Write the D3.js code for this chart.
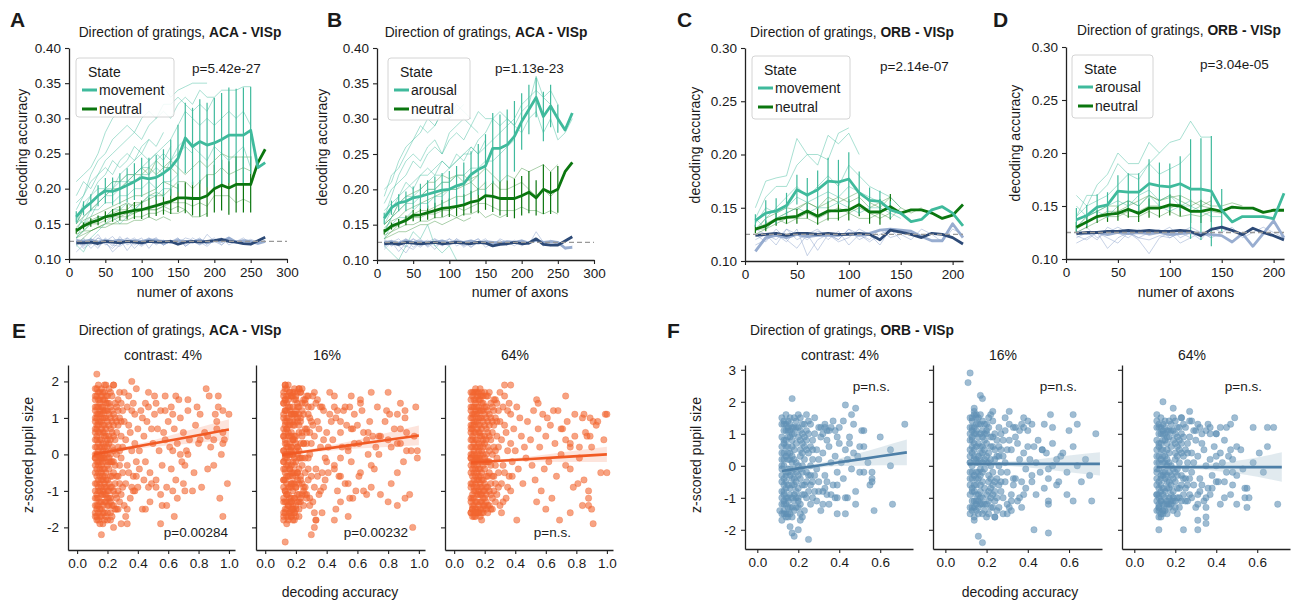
<!DOCTYPE html>
<html>
<head>
<meta charset="utf-8">
<script src="https://cdn.jsdelivr.net/npm/d3@7"></script>
<style>
  body { margin: 0; background: #fff; }
  svg text { font-family: "Liberation Sans", Arial, Helvetica, sans-serif; fill: #1a1a1a; }
</style>
</head>
<body>
<svg id="fig" width="1293" height="603"></svg>
<script>
'use strict';

// ---- Data: top row, decoding accuracy vs number of axons --------------------

const axonsAB = [10,20,30,40,50,60,70,80,90,100,110,120,130,140,150,160,170,180,190,200,210,220,230,240,250,260,270];
const axonsCD = [10,20,30,40,50,60,70,80,90,100,110,120,130,140,150,160,170,180,190,200,210];
const ticksAxonsAB = [0,50,100,150,200,250,300];
const ticksAxonsCD = [0,50,100,150,200];
const ticksAccAB = [0.10,0.15,0.20,0.25,0.30,0.35,0.40];
const ticksAccCD = [0.10,0.15,0.20,0.25,0.30];
const chanceLevel = 0.125;

// A: ACA - VISp, movement
const aMove     = [0.160,0.172,0.180,0.190,0.197,0.196,0.200,0.205,0.210,0.216,0.214,0.216,0.222,0.230,0.243,0.272,0.260,0.267,0.262,0.265,0.270,0.276,0.276,0.276,0.283,0.230,0.237];
const aMoveErr  = [0.008,0.010,0.012,0.015,0.018,0.020,0.022,0.024,0.026,0.028,0.030,0.032,0.034,0.040,0.048,0.050,0.055,0.060,0.060,0.064,0.066,0.068,0.066,0.068,0.062,0,0];
const aNeut     = [0.140,0.147,0.152,0.155,0.160,0.162,0.165,0.167,0.169,0.170,0.173,0.176,0.179,0.182,0.187,0.187,0.186,0.186,0.190,0.200,0.205,0.201,0.206,0.206,0.206,0.237,0.256];
const aNeutErr  = [0.004,0.005,0.006,0.007,0.008,0.009,0.010,0.011,0.012,0.013,0.014,0.015,0.016,0.018,0.020,0.022,0.024,0.026,0.030,0.034,0.036,0.038,0.040,0.040,0.040,0,0];
const aShufDark = [0.123,0.123,0.124,0.122,0.125,0.124,0.123,0.125,0.124,0.123,0.125,0.124,0.124,0.125,0.121,0.124,0.125,0.124,0.125,0.126,0.128,0.125,0.124,0.122,0.121,0.126,0.131];
const aShufLight= [0.126,0.125,0.127,0.124,0.126,0.125,0.127,0.124,0.126,0.125,0.127,0.126,0.125,0.124,0.126,0.125,0.124,0.127,0.123,0.126,0.125,0.130,0.124,0.126,0.125,0.122,0.125];
const aThinMove = [
  [0.21,0.22,0.23,0.25,0.28,0.30,0.31,0.32,0.31,0.33,0.34,0.33,0.345,0.33,0.34,0.345,0.35,0.35,0.35],
  [0.17,0.19,0.22,0.24,0.25,0.27,0.28,0.29,0.28,0.30,0.31,0.30,0.32,0.32,0.33,0.32,0.31,0.32,0.31,0.33,0.34,0.34,0.34,0.345,0.345],
  [0.15,0.17,0.18,0.19,0.20,0.20,0.22,0.23,0.24,0.25,0.24,0.25,0.26,0.27,0.29,0.31,0.30,0.29,0.30,0.29,0.30,0.31,0.30,0.31,0.29],
  [0.14,0.16,0.17,0.18,0.19,0.19,0.20,0.21,0.21,0.22,0.22,0.23,0.22,0.24,0.26,0.27,0.26,0.25,0.24,0.26,0.25,0.24,0.25,0.26,0.23],
  [0.16,0.15,0.17,0.17,0.18,0.18,0.19,0.19,0.20,0.20,0.21,0.20,0.21,0.21,0.22],
  [0.13,0.14,0.15,0.16,0.16,0.17,0.17,0.18,0.17,0.18,0.19,0.19,0.20,0.20],
  [0.12,0.11,0.13,0.14,0.15,0.16,0.15,0.16,0.17,0.18],
  [0.19,0.21,0.20,0.22,0.23,0.22,0.24,0.25,0.24,0.26,0.27,0.26,0.28],
  [0.15,0.18,0.19,0.21,0.22,0.24,0.23,0.24,0.26,0.25,0.27],
  [0.18,0.19,0.21,0.22,0.24,0.25,0.26,0.27,0.28,0.27,0.29,0.30,0.31,0.30,0.32,0.33,0.32,0.34,0.33,0.33],
  [0.13,0.15,0.16,0.18,0.19,0.20,0.21,0.21,0.22,0.23,0.23,0.24,0.25,0.24,0.25,0.26,0.25],
  [0.16,0.17,0.19,0.20,0.20,0.21,0.21,0.22,0.22,0.23,0.24,0.25,0.24,0.26]
];
const aThinNeut = [
  [0.15,0.16,0.17,0.18,0.19,0.20,0.20,0.21,0.22,0.22,0.23,0.22,0.23,0.24,0.23,0.22,0.23,0.24,0.23,0.24,0.25,0.245,0.245,0.245,0.245],
  [0.13,0.14,0.15,0.155,0.16,0.165,0.17,0.17,0.18,0.18,0.185,0.19,0.19,0.20,0.21,0.21,0.20,0.21,0.22,0.22,0.23,0.22,0.225,0.23,0.225],
  [0.14,0.145,0.15,0.15,0.155,0.16,0.16,0.165,0.165,0.17,0.17,0.17,0.175,0.18,0.18,0.18,0.175,0.18,0.175,0.19,0.19,0.19,0.18,0.185,0.18],
  [0.13,0.135,0.14,0.145,0.15,0.15,0.155,0.155,0.16,0.16,0.165,0.165,0.17,0.165,0.165,0.17,0.16,0.16,0.165],
  [0.145,0.155,0.16,0.165,0.17,0.175,0.18,0.185,0.19,0.19,0.195,0.20,0.21,0.205,0.20],
  [0.135,0.14,0.14,0.145,0.145,0.15,0.15,0.15,0.155,0.155,0.16,0.155,0.16,0.155],
  [0.14,0.15,0.155,0.16,0.16,0.17,0.175,0.18,0.175,0.18,0.19,0.195,0.19],
  [0.15,0.17,0.18,0.19,0.20,0.21,0.21,0.22,0.22,0.23,0.22,0.24,0.23,0.23,0.22],
  [0.12,0.13,0.14,0.145,0.15,0.155,0.16,0.16,0.165,0.17,0.17,0.17,0.175,0.17,0.175,0.17,0.16]
];
const aThinShuf = [
  [0.125,0.12,0.13,0.118,0.125,0.132,0.12,0.128,0.115,0.125,0.13,0.12,0.127,0.122,0.13,0.118,0.125,0.13,0.12],
  [0.12,0.13,0.115,0.125,0.128,0.118,0.132,0.12,0.125,0.13,0.115,0.128,0.12,0.125,0.122,0.13,0.127,0.12,0.125,0.13,0.12,0.128,0.125,0.13,0.122],
  [0.13,0.118,0.125,0.135,0.12,0.125,0.128,0.112,0.125,0.12,0.13,0.125,0.12,0.128],
  [0.11,0.12,0.125,0.115,0.13,0.12,0.118,0.125,0.13,0.12,0.125,0.13,0.12,0.125,0.128,0.12,0.13,0.124,0.118,0.127,0.13,0.12,0.125,0.122,0.128,0.124,0.125],
  [0.118,0.128,0.12,0.13,0.122,0.115,0.125,0.13,0.12,0.125],
  [0.128,0.115,0.122,0.13,0.125,0.11,0.12,0.13,0.124,0.118,0.126,0.13,0.12,0.125,0.13,0.118,0.125,0.12,0.135,0.125,0.12,0.13]
];

// B: ACA - VISp, arousal
const bArou     = [0.159,0.174,0.181,0.183,0.188,0.190,0.193,0.196,0.199,0.200,0.205,0.208,0.221,0.228,0.233,0.258,0.258,0.263,0.275,0.296,0.313,0.330,0.303,0.318,0.300,0.284,0.308];
const bArouErr  = [0.008,0.010,0.012,0.014,0.016,0.018,0.020,0.022,0.024,0.026,0.028,0.030,0.033,0.036,0.045,0.050,0.048,0.050,0.050,0.040,0.035,0.028,0.035,0.030,0.020,0,0];
const bNeut     = [0.140,0.148,0.152,0.156,0.163,0.164,0.167,0.170,0.173,0.174,0.176,0.178,0.182,0.184,0.191,0.190,0.187,0.187,0.187,0.191,0.196,0.188,0.200,0.195,0.200,0.225,0.238];
const bNeutErr  = [0.004,0.005,0.006,0.007,0.008,0.009,0.010,0.011,0.012,0.013,0.014,0.015,0.016,0.018,0.020,0.022,0.024,0.026,0.028,0.028,0.030,0.025,0.035,0.030,0.033,0,0];
const bShufDark = [0.123,0.124,0.122,0.125,0.124,0.123,0.124,0.125,0.123,0.124,0.125,0.124,0.123,0.125,0.124,0.120,0.122,0.123,0.125,0.123,0.124,0.130,0.122,0.121,0.121,0.127,0.133];
const bShufLight= [0.125,0.126,0.124,0.127,0.125,0.126,0.124,0.125,0.127,0.124,0.126,0.125,0.127,0.124,0.126,0.125,0.124,0.126,0.125,0.127,0.124,0.128,0.125,0.126,0.125,0.117,0.118];
const bThinArou = [
  [0.20,0.21,0.24,0.26,0.27,0.29,0.28,0.29,0.31,0.30,0.31,0.32],
  [0.16,0.19,0.22,0.24,0.25,0.24,0.26,0.27,0.25,0.28,0.29,0.30,0.29,0.31,0.30,0.30,0.31,0.30,0.29,0.31,0.32,0.36,0.33,0.34,0.32],
  [0.15,0.17,0.19,0.20,0.21,0.22,0.22,0.23,0.24,0.23,0.24,0.25,0.25,0.27,0.28,0.30,0.29,0.30,0.29,0.28,0.30,0.31,0.28,0.30,0.27,0.28,0.30],
  [0.14,0.16,0.17,0.18,0.18,0.19,0.20,0.20,0.21,0.21,0.22,0.22,0.23,0.23,0.24,0.24,0.25,0.26,0.27],
  [0.17,0.18,0.19,0.21,0.20,0.22,0.23,0.22,0.24,0.23,0.25,0.24,0.26,0.25,0.27],
  [0.13,0.15,0.16,0.16,0.17,0.18,0.18,0.19,0.19,0.20,0.20,0.21],
  [0.12,0.11,0.10,0.12,0.14,0.13,0.15,0.12,0.11,0.12,0.10],
  [0.18,0.20,0.21,0.22,0.24,0.23,0.25,0.26,0.25,0.27,0.28,0.27,0.29,0.28],
  [0.19,0.22,0.23,0.25,0.27,0.28,0.30,0.29,0.31,0.30,0.32,0.31,0.30],
  [0.14,0.16,0.18,0.19,0.19,0.20,0.21,0.22,0.22,0.23,0.24,0.25,0.26,0.25,0.26,0.27,0.28,0.29,0.30,0.32,0.33,0.34,0.33,0.32,0.30]
];
const bThinNeut = [
  [0.15,0.16,0.17,0.18,0.19,0.19,0.20,0.20,0.21,0.21,0.22,0.22,0.21,0.22,0.23,0.22,0.21,0.22,0.215,0.23,0.225,0.23,0.235,0.225,0.235],
  [0.13,0.14,0.15,0.16,0.165,0.17,0.17,0.175,0.18,0.185,0.19,0.19,0.195,0.20,0.20,0.21,0.20,0.20,0.205,0.21,0.20,0.19,0.20,0.19,0.20],
  [0.14,0.145,0.15,0.155,0.16,0.16,0.165,0.165,0.17,0.17,0.175,0.17,0.175,0.18,0.18,0.175,0.17,0.17,0.17,0.175,0.17,0.17,0.165,0.17,0.165],
  [0.135,0.14,0.145,0.15,0.15,0.155,0.155,0.16,0.16,0.165,0.16,0.165,0.165,0.17,0.16,0.165,0.16,0.165],
  [0.145,0.155,0.16,0.17,0.175,0.18,0.185,0.19,0.195,0.20,0.20,0.205,0.21,0.20,0.21],
  [0.13,0.135,0.14,0.14,0.145,0.15,0.15,0.155,0.15,0.155,0.16,0.155,0.16],
  [0.15,0.16,0.18,0.19,0.195,0.20,0.21,0.21,0.22,0.215,0.22,0.21,0.215,0.22]
];
const bThinShuf = [
  [0.122,0.128,0.12,0.13,0.124,0.118,0.126,0.13,0.12,0.125,0.128,0.118,0.125,0.13,0.122,0.125,0.12],
  [0.13,0.12,0.125,0.118,0.13,0.125,0.12,0.128,0.124,0.12,0.13,0.125,0.118,0.127,0.125,0.12,0.13,0.125,0.12,0.128,0.122,0.14,0.125,0.12,0.125],
  [0.115,0.125,0.12,0.11,0.125,0.13,0.118,0.125,0.12,0.13,0.125,0.12],
  [0.12,0.125,0.13,0.12,0.115,0.125,0.128,0.12,0.125,0.13,0.12,0.125,0.118,0.125,0.13,0.12,0.125,0.122,0.128,0.12,0.125,0.13,0.12,0.128,0.125,0.115,0.12],
  [0.128,0.12,0.125,0.13,0.118,0.125,0.12,0.13,0.125],
  [0.118,0.126,0.112,0.124,0.13,0.12,0.125,0.115,0.128,0.122,0.13,0.12,0.125,0.13,0.118,0.124,0.128,0.12]
];

// C: ORB - VISp, movement
const cMove     = [0.138,0.145,0.147,0.152,0.167,0.162,0.167,0.175,0.174,0.177,0.164,0.157,0.156,0.148,0.145,0.137,0.139,0.148,0.151,0.145,0.133];
const cMoveErr  = [0.006,0.012,0.012,0.012,0.014,0.016,0.018,0.022,0.021,0.025,0.020,0.012,0.010,0.008,0,0,0,0,0,0,0];
const cNeut     = [0.130,0.133,0.139,0.141,0.142,0.147,0.142,0.147,0.147,0.148,0.153,0.146,0.146,0.151,0.145,0.148,0.148,0.145,0.140,0.143,0.153];
const cNeutErr  = [0.004,0.005,0.006,0.006,0.007,0.007,0.008,0.009,0.009,0.010,0.011,0.011,0.012,0.012,0,0,0,0,0,0,0];
const cShufDark = [0.124,0.125,0.126,0.124,0.126,0.126,0.125,0.126,0.125,0.125,0.126,0.125,0.120,0.129,0.127,0.125,0.122,0.126,0.125,0.122,0.116];
const cShufLight= [0.109,0.122,0.124,0.122,0.125,0.123,0.124,0.124,0.124,0.126,0.124,0.126,0.129,0.130,0.129,0.128,0.123,0.119,0.119,0.135,0.122];
const cThinMove = [
  [0.15,0.175,0.178,0.18,0.215,0.20,0.20,0.195,0.22,0.225],
  [0.14,0.16,0.17,0.17,0.19,0.20,0.19,0.218,0.21,0.22,0.20],
  [0.13,0.14,0.15,0.16,0.17,0.16,0.17,0.18,0.17,0.19,0.18,0.17,0.165,0.16,0.15],
  [0.135,0.15,0.145,0.15,0.16,0.155,0.16,0.165,0.16,0.17,0.165,0.16,0.155,0.15],
  [0.14,0.13,0.14,0.145,0.15,0.145,0.15,0.15,0.155,0.15,0.145,0.15,0.15,0.145,0.14]
];
const cThinNeut = [
  [0.13,0.135,0.14,0.145,0.15,0.155,0.15,0.16,0.155,0.16,0.165,0.155,0.15,0.16],
  [0.125,0.13,0.135,0.14,0.14,0.145,0.14,0.145,0.15,0.145,0.15,0.145,0.14,0.145],
  [0.13,0.13,0.14,0.135,0.14,0.14,0.135,0.14,0.14,0.145,0.14,0.14,0.145,0.14,0.15,0.145,0.15],
  [0.128,0.14,0.145,0.15,0.148,0.155,0.15,0.155,0.16,0.155,0.16,0.15,0.155,0.16,0.15]
];
const cThinShuf = [
  [0.12,0.125,0.115,0.13,0.12,0.125,0.11,0.125,0.12,0.13,0.12,0.125,0.115,0.13,0.12],
  [0.125,0.118,0.13,0.12,0.112,0.125,0.13,0.12,0.128,0.115,0.125,0.12,0.13,0.122,0.125,0.12,0.13,0.125,0.118,0.13,0.125],
  [0.115,0.12,0.125,0.118,0.13,0.105,0.12,0.125,0.118,0.122,0.13,0.125],
  [0.13,0.125,0.12,0.13,0.125,0.12,0.128,0.125,0.12,0.13,0.125,0.118,0.125,0.13]
];

// D: ORB - VISp, arousal
const dArou     = [0.137,0.141,0.149,0.151,0.164,0.163,0.163,0.171,0.169,0.168,0.171,0.166,0.166,0.164,0.146,0.135,0.140,0.140,0.140,0.138,0.162];
const dArouErr  = [0.011,0.010,0.012,0.012,0.015,0.018,0.018,0.023,0.022,0.022,0.026,0.047,0.048,0.052,0.020,0,0,0,0,0,0];
const dNeut     = [0.130,0.135,0.140,0.142,0.143,0.147,0.143,0.148,0.148,0.151,0.150,0.145,0.145,0.147,0.145,0.149,0.148,0.148,0.144,0.146,0.146];
const dNeutErr  = [0.005,0.006,0.006,0.007,0.007,0.008,0.008,0.009,0.009,0.010,0.010,0.011,0.011,0.012,0,0,0,0,0,0,0];
const dShufDark = [0.124,0.125,0.125,0.126,0.126,0.127,0.126,0.127,0.126,0.126,0.127,0.126,0.122,0.128,0.130,0.127,0.123,0.129,0.125,0.122,0.118];
const dShufLight= [0.125,0.124,0.125,0.123,0.125,0.124,0.125,0.124,0.125,0.123,0.124,0.125,0.124,0.123,0.122,0.116,0.124,0.112,0.124,0.136,0.120];
const dThinArou = [
  [0.16,0.15,0.17,0.18,0.20,0.19,0.19,0.21,0.20],
  [0.14,0.16,0.16,0.17,0.19,0.18,0.18,0.19,0.20,0.21,0.213,0.23,0.215,0.215],
  [0.14,0.15,0.155,0.16,0.17,0.18,0.175,0.19,0.18,0.185,0.19,0.20],
  [0.13,0.14,0.145,0.15,0.155,0.15,0.16,0.165,0.155,0.16,0.15,0.15,0.145,0.14,0.14],
  [0.15,0.14,0.145,0.14,0.15,0.155,0.15,0.16,0.15,0.145,0.15,0.155]
];
const dThinNeut = [
  [0.13,0.14,0.145,0.15,0.15,0.155,0.15,0.16,0.155,0.16,0.155,0.15,0.155,0.15,0.15,0.153,0.15],
  [0.125,0.13,0.135,0.14,0.14,0.145,0.145,0.15,0.15,0.148,0.152,0.145,0.15,0.148],
  [0.13,0.135,0.14,0.14,0.145,0.14,0.14,0.145,0.14,0.145,0.14,0.142,0.14,0.145,0.143],
  [0.128,0.135,0.14,0.145,0.145,0.15,0.155,0.16,0.155,0.158,0.16,0.155,0.15,0.155]
];
const dThinShuf = [
  [0.12,0.125,0.118,0.13,0.125,0.12,0.128,0.122,0.125,0.13,0.12,0.125,0.118,0.13,0.125],
  [0.115,0.12,0.125,0.11,0.12,0.125,0.118,0.105,0.12,0.125,0.115,0.12,0.125,0.12],
  [0.125,0.13,0.12,0.125,0.13,0.125,0.12,0.125,0.128,0.12,0.125,0.13,0.125,0.12,0.125,0.13,0.12,0.125,0.13,0.125,0.12],
  [0.122,0.118,0.125,0.12,0.115,0.125,0.12,0.118,0.122,0.12,0.125,0.12]
];

// ---- Data: bottom row, pupil size vs decoding accuracy ----------------------
// Flat pairs: decoding accuracy in hundredths, z-scored pupil size in tenths.

const e4pts = [12,15,13,8,12,-3,14,-10,13,-14,12,4,15,12,14,17,13,-6,12,-12,16,2,15,-1,14,6,13,11,12,-8,16,-15,15,-17,17,-19,14,-18,13,16,16,18,17,10,18,5,17,-4,18,-9,19,-13,16,-7,15,9,19,14,18,17,20,12,21,3,19,-2,20,-7,21,-12,22,-16,20,-18,23,-14,22,7,23,16,24,11,21,18,25,4,24,-2,25,-8,26,-12,23,-6,22,0,26,13,27,8,28,-3,27,-10,28,17,29,5,30,-5,29,-11,30,12,28,10,26,0,24,19,12,0,13,2,14,-2,15,4,16,-3,17,1,18,-1,19,7,20,0,21,-4,22,10,23,2,13,-11,14,13,15,-13,17,15,18,-16,19,19,12,10,12,-16,13,-17,14,1,16,7,17,-10,18,12,20,-10,21,8,22,-9,24,5,25,14,26,-6,27,2,28,-8,12,6,14,-5,16,11,18,-6,20,16,22,-2,24,-10,26,6,29,-1,30,2,12,-1,13,5,14,9,15,-8,16,-11,17,6,18,-13,19,3,20,-14,21,14,22,-12,23,9,12,13,13,-2,14,-14,15,15,16,-1,17,-14,18,8,19,-7,20,4,21,-1,13,18,15,-4,17,-7,19,10,21,-8,23,-2,25,-15,27,15,29,9,31,9,32,-8,33,13,31,-14,32,4,33,-3,34,8,35,-12,34,16,36,1,35,6,37,-6,38,11,39,-2,36,-9,31,17,32,-17,33,-19,37,14,38,-10,34,-5,36,12,38,3,40,7,39,-6,41,1,
  12,18,12,-17,12,9,12,-10,12,2,12,-5,12,12,12,-14,12,-1,12,7,13,4,13,-8,13,13,13,-12,13,0,13,-4,13,7,13,-15,13,10,13,-18,14,-16,14,11,14,-7,14,3,14,-12,14,15,14,8,14,-3,14,-9,14,0,15,-6,15,14,15,2,15,-10,15,17,15,6,15,-15,15,-2,15,11,15,-19,16,13,16,-9,16,4,16,-13,16,9,16,-1,16,16,16,-17,16,0,16,-5,17,-2,17,12,17,-11,17,3,17,-16,17,8,17,17,17,-6,17,13,17,-1,18,-4,18,10,18,-11,18,2,18,15,18,-18,18,6,18,-8,18,0,19,-5,19,12,19,-9,19,1,19,16,19,-17,19,5,19,-11,20,9,20,-3,20,14,20,-12,20,2,20,-16,21,-10,21,5,21,11,21,-14,21,-2,22,13,22,-6,22,4,22,-13,22,17,23,-9,23,6,23,-17,23,12,24,-5,24,8,24,-14,24,1,25,10,25,-11,25,-3,26,9,26,-15,27,-6,27,12,28,1,28,-13,29,14,30,-9,22,-18,18,19,14,19,12,16,
  42,12,44,5,45,-2,46,9,47,13,48,-5,50,3,51,11,52,-7,53,7,54,1,55,12,56,-3,57,6,58,4,59,-9,60,9,61,2,62,-4,63,11,64,7,66,3,68,10,69,-2,70,6,72,1,74,4,78,8,80,3,82,-9,84,6,88,2,90,-3,92,7,94,-12,97,4,99,-8,41,-4,43,10,45,14,47,-9,49,7,52,14,55,-11,58,12,62,13,66,-12,71,-3,73,12,79,13,86,-4,91,11,95,0,
  13,22,36,20,24,19,85,18,87,16,93,16,39,18,47,17,51,16,58,16,65,16,67,15,73,15,81,11,93,13,96,12,100,11,92,9,86,5,81,4,90,4,96,3,96,6,73,0,63,1,68,0,77,-5,65,-7,70,-8,71,-10,63,-10,76,-10,56,-14,59,-14,64,-17,55,-19,96,-17,43,-15,45,-15,48,-13,37,-10,40,-9,44,-7,49,-8,52,-9,24,-20,16,-22,29,-19,33,-15,27,-15];

const e16pts = [12,17,13,9,12,-2,14,-11,13,-15,12,5,15,13,14,18,13,-5,12,-13,16,3,15,0,14,7,13,12,12,-7,16,-16,15,-18,17,-17,14,-17,13,15,16,17,17,11,18,4,17,-5,18,-8,19,-12,16,-6,15,8,19,15,18,16,20,11,21,2,19,-3,20,-6,21,-13,22,-15,20,-17,23,-13,22,8,23,17,24,12,21,17,25,3,24,-3,25,-9,26,-11,23,-7,22,1,26,14,27,7,28,-4,27,-11,28,16,29,6,30,-6,29,-12,30,13,28,11,26,-1,24,18,12,1,13,3,14,-1,15,5,16,-4,17,2,18,0,19,8,20,1,21,-5,22,11,23,3,13,-10,14,14,15,-14,17,16,18,-15,19,18,12,11,12,-17,13,-16,14,2,16,8,17,-9,18,13,20,-9,21,9,22,-8,24,6,25,15,26,-5,27,3,28,-7,12,7,14,-6,16,12,18,-5,20,15,22,-1,24,-11,26,7,29,0,30,3,12,-4,13,6,14,10,15,-9,16,-12,17,5,18,-14,19,4,20,-15,21,13,22,-11,23,10,12,14,13,-1,14,-13,15,16,16,0,17,-13,18,9,19,-8,20,5,21,0,13,19,15,-3,17,-8,19,11,21,-7,23,-1,25,-14,27,16,29,10,31,8,32,-9,33,14,31,-13,32,5,33,-4,34,9,35,-11,34,15,36,2,35,7,37,-5,38,12,39,-1,36,-10,31,16,32,-16,33,-18,37,13,38,-9,34,-6,36,13,38,4,40,6,39,-7,41,2,18,-15,19,-16,17,-16,
  12,-18,12,16,12,-9,12,10,12,-2,12,5,12,-12,12,14,12,1,12,-7,13,-4,13,8,13,-13,13,12,13,0,13,4,13,-7,13,15,13,-10,13,18,14,16,14,-11,14,7,14,-3,14,12,14,-15,14,-8,14,3,14,9,14,0,15,6,15,-14,15,-2,15,10,15,-17,15,-6,15,15,15,2,15,-11,15,19,16,-13,16,9,16,-4,16,13,16,-9,16,1,16,-16,16,17,16,0,16,5,17,2,17,-12,17,11,17,-3,17,16,17,-8,17,-17,17,6,17,-13,17,1,18,4,18,-10,18,11,18,-2,18,-15,18,17,18,-6,18,8,18,0,19,5,19,-12,19,9,19,-1,19,-16,19,17,19,-5,19,11,20,-9,20,3,20,-14,20,12,20,-2,20,16,21,10,21,-5,21,-11,21,14,21,2,22,-13,22,6,22,-4,22,13,22,-17,23,9,23,-6,23,17,23,-12,24,5,24,-8,24,14,24,-1,25,-10,25,11,25,3,26,-9,26,15,27,6,27,-12,28,-1,28,13,29,-14,30,9,22,18,18,-18,14,-19,12,-16,
  42,11,44,4,45,-3,46,10,47,12,48,-6,50,2,51,12,52,-8,53,8,54,2,55,13,56,-2,57,7,58,3,59,-10,60,8,61,3,62,-5,63,12,64,6,66,4,68,9,69,-3,70,5,72,2,74,5,78,9,80,4,82,-8,84,7,88,3,90,-2,92,6,94,-11,97,5,41,-5,43,9,45,13,47,-10,49,6,52,13,55,-12,58,11,62,14,66,-11,71,-4,73,13,79,12,86,-5,91,12,95,1,
  13,19,13,-24,30,-22,32,-20,96,-20,91,-12,86,-14,80,-13,75,-11,69,-9,64,-10,61,-6,99,-1,99,1,92,1,86,3,82,2,88,7,91,10,86,11,81,11,98,13,88,14,80,17,69,17,62,15,56,16,45,16,42,17,22,18,32,17,49,9,56,7,67,6,75,5,54,1,67,0,74,0,49,-1,40,-2,45,-4,49,-6,54,-8,57,-12,49,-13,46,-15,54,-17,45,-18,37,-16,33,-18,19,-18,17,-15];

const e64pts = [11,15,12,8,11,-3,13,-10,12,-14,11,4,14,12,13,17,12,-6,11,-12,15,2,14,-1,13,6,12,11,11,-8,15,-15,14,-16,16,-16,13,-17,12,16,15,17,16,10,17,5,16,-4,17,-9,18,-13,15,-7,14,9,18,14,17,16,19,12,20,3,18,-2,19,-7,20,-12,21,-15,19,-16,22,-14,21,7,22,16,23,11,20,17,24,4,23,-2,24,-8,25,-12,22,-6,21,0,25,13,26,8,27,-3,26,-10,27,15,28,5,29,-5,28,-11,29,12,27,10,25,0,23,17,11,0,12,2,13,-2,14,4,15,-3,16,1,17,-1,18,7,19,0,20,-4,21,10,22,2,12,-11,13,13,14,-13,16,15,17,-15,18,17,11,10,11,-16,12,-15,13,1,15,7,16,-10,17,12,19,-10,20,8,21,-9,23,5,24,14,25,-6,26,2,27,-8,11,6,13,-5,15,11,17,-6,19,16,21,-2,23,-10,25,6,28,-1,29,2,11,-1,12,5,13,9,14,-8,15,-11,16,6,17,-13,18,3,19,-14,20,13,21,-11,22,9,11,13,12,-2,13,-14,14,15,15,-1,16,-14,17,8,18,-7,19,4,20,-1,12,17,14,-4,16,-7,18,10,20,-8,22,-2,24,-15,26,15,28,9,30,9,31,-8,32,13,30,-14,31,4,32,-3,33,8,34,-12,33,16,35,1,34,6,36,-6,37,11,38,-2,35,-9,30,17,31,-16,32,-13,36,14,37,-10,33,-5,35,12,37,3,39,7,38,-6,40,1,42,-4,44,5,43,10,45,-8,41,13,46,2,
  11,17,11,-16,11,8,11,-9,11,2,11,-5,11,12,11,-13,11,-1,11,7,12,4,12,-8,12,13,12,-12,12,0,12,-4,12,7,12,-15,12,10,12,-17,13,-16,13,11,13,-7,13,3,13,-12,13,15,13,8,13,-3,13,-9,13,0,14,-6,14,14,14,2,14,-10,14,17,14,6,14,-15,14,-2,14,11,14,-17,15,13,15,-9,15,4,15,-13,15,9,15,-1,15,16,15,-16,15,0,15,-5,16,-2,16,12,16,-11,16,3,16,-16,16,8,16,17,16,-6,16,13,16,-1,17,-4,17,10,17,-11,17,2,17,15,17,-17,17,6,17,-8,17,0,18,-5,18,12,18,-9,18,1,18,16,18,-16,18,5,18,-11,19,9,19,-3,19,14,19,-12,19,2,19,-15,20,-10,20,5,20,11,20,-14,20,-2,21,13,21,-6,21,4,21,-13,21,16,22,-9,22,6,22,-16,22,12,23,-5,23,8,23,-14,23,1,24,10,24,-11,24,-3,25,9,25,-15,26,-6,26,12,27,1,27,-13,28,14,29,-9,
  47,-1,48,9,50,4,51,-3,52,12,53,-7,55,7,56,2,57,-10,58,11,59,-4,60,5,61,10,62,-2,63,8,64,-12,66,3,67,-6,68,12,70,0,71,7,73,-3,74,9,76,2,78,-9,79,5,82,-1,84,10,86,6,88,-12,90,2,93,8,96,-5,98,4,
  14,18,17,18,33,19,37,19,73,16,54,15,55,14,65,12,79,11,85,11,89,10,91,9,94,9,100,11,99,11,70,7,73,4,76,3,82,2,87,5,89,5,100,-5,76,-4,81,-8,85,-7,88,-10,84,-14,88,-14,90,-15,91,-19,76,-16,69,-18,60,-15,54,-13,41,-18,18,-18,14,-16];

const f4pts = [12,15,13,8,12,-3,14,-10,13,-14,12,4,15,12,14,16,13,-6,12,-12,16,2,15,-1,14,6,13,11,12,-8,16,-15,15,-16,17,-13,14,-15,13,14,16,15,17,10,18,5,17,-4,18,-9,19,-13,16,-7,15,9,19,14,18,15,20,12,21,3,19,-2,20,-7,21,-12,22,-16,20,-11,23,-14,22,7,23,13,24,11,21,15,25,4,24,-2,25,-8,26,-12,23,-6,22,0,26,13,27,8,28,-3,27,-10,28,15,29,5,30,-5,29,-11,30,12,28,10,26,0,24,16,12,0,13,2,14,-2,15,4,16,-3,17,1,18,-1,19,7,20,0,21,-4,22,10,23,2,13,-11,14,13,15,-13,17,-10,18,12,20,-10,21,8,22,-9,24,5,25,14,26,-6,27,2,28,-8,12,6,14,-5,16,11,18,-6,20,16,22,-2,24,-10,26,6,29,-1,30,2,13,-9,15,-11,17,6,19,-8,21,-1,23,9,25,-3,27,-5,
  12,13,12,-15,12,9,12,-10,12,2,12,-5,12,-1,13,4,13,-8,13,13,13,-12,13,0,13,-4,13,7,13,-15,14,-16,14,11,14,-7,14,3,14,-12,14,8,14,-3,15,-6,15,14,15,2,15,-10,15,6,15,-15,15,-2,15,11,16,13,16,-9,16,4,16,-13,16,9,16,-1,17,-2,17,12,17,3,17,-16,17,8,17,-6,18,-4,18,10,18,-11,18,2,18,-14,19,-5,19,12,19,1,19,-10,20,9,20,-3,20,-13,21,5,21,11,21,-15,22,-6,22,4,22,13,23,-9,23,6,24,-5,24,8,25,10,26,-3,27,5,
  31,9,32,-8,33,13,31,-14,32,4,33,-3,34,8,35,-12,34,11,36,1,35,6,37,-6,38,11,39,-2,36,-9,31,12,32,-12,33,-7,37,14,38,-10,34,-5,36,12,38,3,40,7,39,-6,41,1,42,-4,43,5,44,2,45,9,46,-1,47,4,48,-8,49,3,50,-2,52,6,54,1,55,-6,40,12,42,14,44,-10,
  17,21,43,19,48,18,46,16,47,13,51,11,52,11,72,13,60,9,65,5,65,0,50,6,45,7,39,9,35,11,33,12,32,10,56,-2,52,-2,56,-4,56,-5,66,-12,57,-14,43,-15,39,-15,48,-12,43,-10,39,-10,34,-9,30,-8,25,-23,18,-22,17,-21,20,-20,16,-19,21,-17,12,-17,11,-14];

const f16pts = [12,-15,13,-8,12,3,14,10,13,14,12,-4,15,-12,14,-16,13,6,12,12,16,-2,15,1,14,-6,13,-11,12,8,16,15,15,16,17,13,14,17,13,-14,16,-15,17,-10,18,-5,17,4,18,9,19,13,16,7,15,-9,19,-14,18,-15,20,-12,21,-3,19,2,20,7,21,12,22,16,20,11,23,14,22,-7,23,-13,24,-11,21,-15,25,-4,24,2,25,8,26,12,23,6,22,0,26,-13,27,-8,28,3,27,10,28,-15,29,-5,30,5,29,11,30,-12,28,-10,26,0,24,-16,12,1,13,-2,14,2,15,-4,16,3,17,-1,18,1,19,-7,20,1,21,4,22,-10,23,-2,13,11,14,-13,15,13,17,10,18,-12,20,10,21,-8,22,9,24,-5,25,-14,26,6,27,-2,28,8,12,-6,14,5,16,-11,18,6,20,-16,22,2,24,10,26,-6,29,1,30,-2,13,9,15,11,17,-6,19,8,21,1,23,-9,25,3,27,5,
  12,-13,12,15,12,-9,12,10,12,-2,12,5,12,1,13,-4,13,8,13,-13,13,12,13,0,13,4,13,-7,13,15,14,16,14,-11,14,7,14,-3,14,12,14,-8,14,3,15,6,15,-14,15,-2,15,10,15,-6,15,15,15,2,15,-11,16,-13,16,9,16,-4,16,13,16,-9,16,1,17,2,17,-12,17,-3,17,16,17,-8,17,6,18,4,18,-10,18,11,18,-2,18,14,19,5,19,-12,19,-1,19,10,20,-9,20,3,20,13,21,-5,21,-11,21,15,22,6,22,-4,22,-13,23,9,23,-6,24,5,24,-8,25,-10,26,3,27,-5,
  31,8,32,-9,33,12,31,-13,32,5,33,-4,34,9,35,-11,34,12,36,2,35,7,37,-5,38,12,39,-1,36,-10,31,13,32,-11,33,-6,37,13,38,-9,34,-4,36,11,38,4,40,6,39,-7,41,2,42,-3,43,6,44,1,45,8,46,-2,47,5,48,-7,49,4,50,-1,52,7,54,2,55,-5,40,11,42,13,44,-9,57,4,59,-2,62,6,64,0,66,-5,68,2,70,-3,
  12,29,11,26,17,22,18,21,14,18,23,17,29,15,31,17,38,15,40,14,51,16,62,16,64,13,60,11,73,10,52,12,48,13,47,5,56,3,52,0,50,-4,54,-6,59,-9,62,-11,71,-11,50,-11,50,-12,43,-20,50,-21,16,-22,18,-24,42,-5,37,-13,32,-14,30,-15,24,-16,14,-17];

const f64pts = [11,14,12,7,11,-4,13,-11,12,-13,11,3,14,11,13,15,12,-7,11,-11,15,1,14,-2,13,5,12,10,11,-9,15,-14,14,-15,16,-12,13,-16,12,13,15,14,16,9,17,4,16,-5,17,-10,18,-12,15,-8,14,8,18,13,17,14,19,11,20,2,18,-3,19,-8,20,-11,21,-15,19,-10,22,-13,21,6,22,12,23,10,20,14,24,3,23,-3,24,-9,25,-11,22,-7,21,-1,25,12,26,7,27,-4,26,-11,27,14,28,4,29,-6,28,-10,29,11,27,9,25,-1,23,15,11,-1,12,1,13,-3,14,3,15,-4,16,0,17,-2,18,6,19,-1,20,-5,21,9,22,1,12,-12,13,12,14,-14,16,-11,17,11,19,-11,20,7,21,-10,23,4,24,13,25,-7,26,1,27,-9,11,5,13,-6,15,10,17,-7,19,15,21,-3,23,-11,25,5,28,-2,29,1,12,-10,14,-12,16,5,18,-9,20,-2,22,8,24,-4,26,-6,
  11,12,11,-14,11,8,11,-9,11,1,11,-6,11,-2,12,3,12,-9,12,12,12,-13,12,-1,12,-5,12,6,12,-14,13,-15,13,10,13,-8,13,2,13,-11,13,7,13,-4,14,-7,14,13,14,1,14,-9,14,5,14,-14,14,-3,14,10,15,12,15,-10,15,3,15,-12,15,8,15,-2,16,-3,16,11,16,2,16,-15,16,7,16,-7,17,-5,17,9,17,-12,17,1,17,-13,18,-6,18,11,18,0,18,-11,19,8,19,-4,19,-14,20,4,20,10,20,-13,21,-7,21,3,21,12,22,-10,22,5,23,-6,23,7,24,9,25,-4,26,4,
  30,8,31,-9,32,12,30,-13,31,3,32,-4,33,7,34,-11,33,10,35,0,34,5,36,-7,37,10,38,-3,35,-10,30,11,31,-12,32,-8,36,13,37,-9,33,-6,35,11,37,2,39,6,38,-7,40,0,41,-5,42,4,43,1,44,8,45,-2,46,3,47,-9,48,2,50,-3,52,5,53,-1,55,-7,40,10,42,12,44,-10,58,1,61,4,63,-2,
  14,20,19,18,11,16,27,17,23,15,28,14,31,13,37,12,40,10,45,12,49,15,47,13,58,12,65,12,68,12,65,6,50,6,47,5,40,3,48,-2,44,-5,40,-5,48,-6,54,-7,56,-10,54,-10,50,-12,55,-13,42,-12,70,-12,35,-13,35,-16,35,-18,31,-17,31,-20,24,-20,12,-20,12,-16];

// Regression fits with 95% CI half-widths.
const eFitX  = [0.11,0.20,0.30,0.50,0.70,1.00];
const e4FitY = [0.00,0.07,0.145,0.30,0.45,0.68];
const e4FitCI= [0.07,0.05,0.05,0.09,0.17,0.28];
const e16FitY = [-0.014,0.04,0.10,0.22,0.34,0.52];
const e16FitCI= [0.07,0.05,0.05,0.09,0.16,0.27];
const e64FitY = [-0.22,-0.20,-0.175,-0.125,-0.075,0.00];
const e64FitCI= [0.06,0.04,0.04,0.07,0.13,0.21];
const f4FitX  = [0.12,0.20,0.30,0.40,0.50,0.60,0.73];
const f4FitY  = [-0.16,-0.08,0.01,0.11,0.20,0.30,0.42];
const f4FitCI = [0.10,0.07,0.07,0.12,0.20,0.28,0.40];
const f16FitX = [0.11,0.20,0.30,0.40,0.50,0.60,0.75];
const f16FitY = [0.06,0.06,0.06,0.06,0.06,0.06,0.06];
const f16FitCI= [0.08,0.06,0.07,0.11,0.18,0.26,0.36];
const f64FitX = [0.11,0.20,0.30,0.40,0.50,0.60,0.72];
const f64FitY = [-0.04,-0.04,-0.04,-0.04,-0.04,-0.04,-0.04];
const f64FitCI= [0.08,0.06,0.07,0.12,0.20,0.30,0.46];

const ticksAccE = [0.0,0.2,0.4,0.6,0.8,1.0];
const ticksAccF = [0.0,0.2,0.4,0.6];
const ticksPupilE = [-2,-1,0,1,2];
const ticksPupilF = [-2,-1,0,1,2,3];

// ---- Style ------------------------------------------------------------------

const FONT = '"Liberation Sans", Arial, Helvetica, sans-serif';
const C = {
  teal: '#3fba9c', green: '#0b760f', navy: '#2d4a77', lightBlue: '#8da4cb',
  axis: '#222', orange: '#f15a24', steel: '#5f8fb4', steelLine: '#4d7fa7'
};

const svg = d3.select('#fig');

function styleAxis(g) {
  g.select('.domain').attr('stroke', C.axis).attr('stroke-width', 1.3);
  g.selectAll('.tick line').attr('stroke', C.axis).attr('stroke-width', 1.1);
  g.selectAll('.tick text').attr('font-size', 13.5).attr('font-family', FONT).attr('fill', '#1a1a1a');
}

function label(x, y, txt, opts = {}) {
  const t = svg.append('text').attr('x', x).attr('y', y)
    .attr('font-size', opts.size || 14)
    .attr('text-anchor', opts.anchor || 'middle')
    .attr('font-weight', opts.weight || 'normal')
    .text(txt);
  if (opts.rotate) t.attr('transform', `rotate(-90,${x},${y})`);
  return t;
}

function title(x, y, normal, bold) {
  const t = svg.append('text').attr('x', x).attr('y', y)
    .attr('text-anchor', 'middle').attr('font-size', 13.8)
    .style('white-space', 'pre');
  t.append('tspan').text(normal);
  t.append('tspan').attr('font-weight', 'bold').text(bold);
}

// ---- Line panels ------------------------------------------------------------

function linePanel(p) {
  const g = svg.append('g');
  const x = d3.scaleLinear().domain(p.xDomain).range([p.left, p.right]);
  const y = d3.scaleLinear().domain(p.yDomain).range([p.bottom, p.top]);
  const line = d3.line().x((d, i) => x(p.xs[i])).y(d => y(d));

  const thin = (sets, color, op) => sets.forEach(v => {
    g.append('path').datum(v).attr('d', line).attr('fill', 'none')
      .attr('stroke', color).attr('stroke-opacity', op).attr('stroke-width', 0.9);
  });
  thin(p.thinShuf, C.lightBlue, 0.55);
  thin(p.thinNeut, '#2f8a2f', 0.45);
  thin(p.thinState, C.teal, 0.5);

  const errBars = (mean, err, color) => {
    g.append('g').selectAll('line')
      .data(mean.map((m, i) => ({ x: p.xs[i], m, e: err[i] })).filter(d => d.e > 0))
      .join('line')
      .attr('x1', d => x(d.x)).attr('x2', d => x(d.x))
      .attr('y1', d => y(d.m - d.e)).attr('y2', d => y(d.m + d.e))
      .attr('stroke', color).attr('stroke-width', 1.2);
  };
  errBars(p.neut, p.neutErr, C.green);
  errBars(p.state, p.stateErr, C.teal);

  const thick = (v, color, op) => g.append('path').datum(v).attr('d', line)
    .attr('fill', 'none').attr('stroke', color).attr('stroke-opacity', op)
    .attr('stroke-width', 2.8).attr('stroke-linejoin', 'round');
  thick(p.shufLight, C.lightBlue, 0.9);
  thick(p.shufDark, C.navy, 1);
  thick(p.neut, C.green, 1);
  thick(p.state, C.teal, 1);

  g.append('line')
    .attr('x1', x(p.xDomain[0])).attr('x2', x(p.xDomain[1]))
    .attr('y1', y(chanceLevel)).attr('y2', y(chanceLevel))
    .attr('stroke', '#999').attr('stroke-width', 1.3).attr('stroke-dasharray', '5,3');

  const xa = g.append('g').attr('transform', `translate(0,${p.bottom})`)
    .call(d3.axisBottom(x).tickValues(p.xTicks).tickSize(4).tickSizeOuter(0).tickPadding(4).tickFormat(d3.format('d')));
  styleAxis(xa);
  const ya = g.append('g').attr('transform', `translate(${p.left},0)`)
    .call(d3.axisLeft(y).tickValues(p.yTicks).tickSize(4).tickSizeOuter(0).tickPadding(4).tickFormat(d3.format('.2f')));
  styleAxis(ya);

  // legend
  const [bx, by, bw, bh] = p.legend;
  g.append('rect').attr('x', bx).attr('y', by).attr('width', bw).attr('height', bh)
    .attr('rx', 3).attr('fill', '#fff').attr('fill-opacity', 0.85)
    .attr('stroke', '#d4d4d4').attr('stroke-width', 1);
  label(bx + 12, by + 19, 'State', { anchor: 'start' });
  [[p.stateLabel, C.teal, by + 37], ['neutral', C.green, by + 56]].forEach(([txt, col, yy]) => {
    g.append('line').attr('x1', bx + 6).attr('x2', bx + 21).attr('y1', yy - 5).attr('y2', yy - 5)
      .attr('stroke', col).attr('stroke-width', 3);
    label(bx + 23, yy, txt, { anchor: 'start' });
  });

  label(p.px, p.py, p.pText, { anchor: 'start', size: 13.5 });
  title(p.titleX, p.titleY, 'Direction of gratings, ', p.region);
  label(p.letterX, 27, p.letter, { anchor: 'start', size: 21, weight: 'bold' });
  label(p.xlabX, 297, 'numer of axons');
  label(p.ylabX, p.ylabY, 'decoding accuracy', { rotate: true });
}

linePanel({
  letter: 'A', letterX: 10, left: 69, right: 287, top: 48, bottom: 259,
  xDomain: [0, 300], yDomain: [0.10, 0.40], xTicks: ticksAxonsAB, yTicks: ticksAccAB, xs: axonsAB,
  state: aMove, stateErr: aMoveErr, neut: aNeut, neutErr: aNeutErr, shufDark: aShufDark, shufLight: aShufLight,
  thinState: aThinMove, thinNeut: aThinNeut, thinShuf: aThinShuf,
  stateLabel: 'movement', legend: [76, 58, 98, 59], pText: 'p=5.42e-27', px: 192, py: 73,
  region: 'ACA - VISp', titleX: 180, titleY: 37, xlabX: 185, ylabX: 27, ylabY: 147
});
linePanel({
  letter: 'B', letterX: 327, left: 377, right: 594, top: 48, bottom: 260,
  xDomain: [0, 300], yDomain: [0.10, 0.40], xTicks: ticksAxonsAB, yTicks: ticksAccAB, xs: axonsAB,
  state: bArou, stateErr: bArouErr, neut: bNeut, neutErr: bNeutErr, shufDark: bShufDark, shufLight: bShufLight,
  thinState: bThinArou, thinNeut: bThinNeut, thinShuf: bThinShuf,
  stateLabel: 'arousal', legend: [388, 58, 82, 62], pText: 'p=1.13e-23', px: 495, py: 73,
  region: 'ACA - VISp', titleX: 486, titleY: 37, xlabX: 520, ylabX: 327, ylabY: 147
});
linePanel({
  letter: 'C', letterX: 677, left: 745, right: 963, top: 48, bottom: 261,
  xDomain: [0, 210], yDomain: [0.10, 0.30], xTicks: ticksAxonsCD, yTicks: ticksAccCD, xs: axonsCD,
  state: cMove, stateErr: cMoveErr, neut: cNeut, neutErr: cNeutErr, shufDark: cShufDark, shufLight: cShufLight,
  thinState: cThinMove, thinNeut: cThinNeut, thinShuf: cThinShuf,
  stateLabel: 'movement', legend: [752, 56, 98, 63], pText: 'p=2.14e-07', px: 880, py: 71,
  region: 'ORB - VISp', titleX: 852, titleY: 37, xlabX: 864, ylabX: 700, ylabY: 145
});
linePanel({
  letter: 'D', letterX: 993, left: 1066, right: 1284, top: 47, bottom: 259,
  xDomain: [0, 210], yDomain: [0.10, 0.30], xTicks: ticksAxonsCD, yTicks: ticksAccCD, xs: axonsCD,
  state: dArou, stateErr: dArouErr, neut: dNeut, neutErr: dNeutErr, shufDark: dShufDark, shufLight: dShufLight,
  thinState: dThinArou, thinNeut: dThinNeut, thinShuf: dThinShuf,
  stateLabel: 'arousal', legend: [1072, 55, 81, 63], pText: 'p=3.04e-05', px: 1200, py: 69,
  region: 'ORB - VISp', titleX: 1179, titleY: 35, xlabX: 1186, ylabX: 1020, ylabY: 143
});

// ---- Scatter panels ---------------------------------------------------------

function toPoints(flat) {
  const out = [];
  for (let i = 0; i < flat.length; i += 2) out.push({ x: flat[i] / 100, y: flat[i + 1] / 10 });
  return out;
}

function scatterPanel(p) {
  const g = svg.append('g');
  const x = d3.scaleLinear().domain(p.xDomain).range([p.left, p.right]);
  const y = d3.scaleLinear().domain(p.yDomain).range([p.bottom, p.top]);

  g.append('g').selectAll('circle').data(toPoints(p.pts)).join('circle')
    .attr('cx', d => x(d.x)).attr('cy', d => y(d.y)).attr('r', 3.2)
    .attr('fill', p.color).attr('fill-opacity', 0.6)
    .attr('stroke', p.color).attr('stroke-opacity', 0.5).attr('stroke-width', 0.6);

  const fit = p.fitX.map((fx, i) => ({ x: fx, y: p.fitY[i], h: p.fitCI[i] }));
  g.append('path').datum(fit)
    .attr('d', d3.area().x(d => x(d.x)).y0(d => y(d.y - d.h)).y1(d => y(d.y + d.h)).curve(d3.curveMonotoneX))
    .attr('fill', p.band).attr('fill-opacity', p.bandOp);
  g.append('path').datum(fit)
    .attr('d', d3.line().x(d => x(d.x)).y(d => y(d.y)))
    .attr('fill', 'none').attr('stroke', p.line).attr('stroke-width', 2.6);

  const xa = g.append('g').attr('transform', `translate(0,${p.bottom})`)
    .call(d3.axisBottom(x).tickValues(p.xTicks).tickSize(4).tickSizeOuter(0).tickPadding(4).tickFormat(d3.format('.1f')));
  styleAxis(xa);
  const ya = g.append('g').attr('transform', `translate(${p.left},0)`)
    .call(d3.axisLeft(y).tickValues(p.yTicks).tickSize(4).tickSizeOuter(0).tickPadding(5)
      .tickFormat(p.yLabels ? d => String(d) : () => ''));
  styleAxis(ya);

  label(p.subX, 360, p.sub);
  label(p.pX, p.pY, p.pText, { anchor: 'end', size: 13.5 });
}

const ePanel = { xDomain: [-0.06, 1.04], yDomain: [-2.62, 2.45], top: 365, bottom: 550,
  xTicks: ticksAccE, yTicks: ticksPupilE, fitX: eFitX, color: '#f26630', line: C.orange, band: C.orange, bandOp: 0.16, pY: 537 };
scatterPanel({ ...ePanel, left: 68, right: 235, pts: e4pts, fitY: e4FitY, fitCI: e4FitCI, yLabels: true,
  sub: 'contrast: 4%', subX: 163, pText: 'p=0.00284', pX: 228 });
scatterPanel({ ...ePanel, left: 256, right: 425, pts: e16pts, fitY: e16FitY, fitCI: e16FitCI,
  sub: '16%', subX: 327, pText: 'p=0.00232', pX: 408 });
scatterPanel({ ...ePanel, left: 445, right: 613, pts: e64pts, fitY: e64FitY, fitCI: e64FitCI,
  sub: '64%', subX: 515, pText: 'p=n.s.', pX: 571 });

const fPanel = { xDomain: [-0.06, 0.76], yDomain: [-2.6, 3.15], top: 365, bottom: 549,
  xTicks: ticksAccF, yTicks: ticksPupilF, color: C.steel, line: C.steelLine, band: '#9cb8c9', bandOp: 0.3, pY: 391 };
scatterPanel({ ...fPanel, left: 745, right: 913, pts: f4pts, fitX: f4FitX, fitY: f4FitY, fitCI: f4FitCI, yLabels: true,
  sub: 'contrast: 4%', subX: 840, pText: 'p=n.s.', pX: 890 });
scatterPanel({ ...fPanel, left: 933, right: 1102, pts: f16pts, fitX: f16FitX, fitY: f16FitY, fitCI: f16FitCI,
  sub: '16%', subX: 1003, pText: 'p=n.s.', pX: 1077 });
scatterPanel({ ...fPanel, left: 1122, right: 1290, pts: f64pts, fitX: f64FitX, fitY: f64FitY, fitCI: f64FitCI,
  sub: '64%', subX: 1192, pText: 'p=n.s.', pX: 1262 });

// shared labels for the bottom row
title(180, 335, 'Direction of gratings, ', 'ACA - VISp');
title(852, 335, 'Direction of gratings, ', 'ORB - VISp');
label(12, 338, 'E', { anchor: 'start', size: 21, weight: 'bold' });
label(667, 338, 'F', { anchor: 'start', size: 21, weight: 'bold' });
label(340, 597, 'decoding accuracy');
label(1020, 597, 'decoding accuracy');
label(33, 455, 'z-scored pupil size', { rotate: true });
label(701, 455, 'z-scored pupil size', { rotate: true });
</script>
</body>
</html>
